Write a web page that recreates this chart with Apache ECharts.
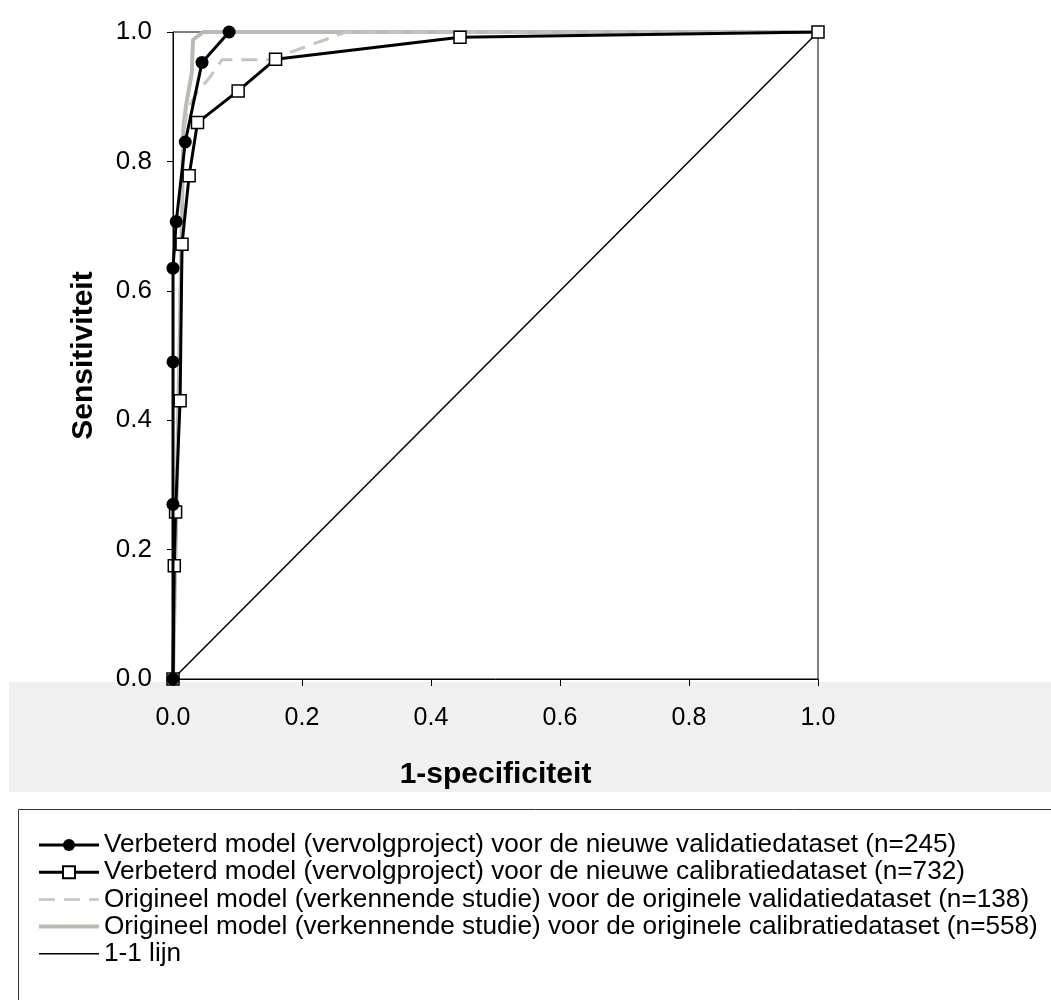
<!DOCTYPE html>
<html>
<head>
<meta charset="utf-8">
<script src="https://cdn.jsdelivr.net/npm/echarts@6/dist/echarts.min.js"></script>
<style>
html, body { margin: 0; background: #fff; }
#chart { width: 1051px; height: 1000px; }
</style>
</head>
<body>
<div id="chart"></div>
<script>
// 1-specificiteit (x) en sensitiviteit (y) per curve
var nieuwValX = [0, 0, 0, 0, 0.005, 0.019, 0.045, 0.087];
var nieuwValY = [0, 0.27, 0.49, 0.635, 0.707, 0.83, 0.953, 1.0];

var nieuwCalX = [0, 0.002, 0.004, 0.011, 0.014, 0.025, 0.038, 0.101, 0.159, 0.445, 1.0];
var nieuwCalY = [0, 0.175, 0.258, 0.43, 0.672, 0.778, 0.86, 0.909, 0.958, 0.992, 1.0];

var origValX = [0, 0.008, 0.012, 0.016, 0.022, 0.037, 0.057, 0.076, 0.15, 0.269, 1.0];
var origValY = [0, 0.43, 0.67, 0.84, 0.88, 0.906, 0.93, 0.957, 0.957, 1.0, 1.0];

var origCalX = [0, 0.006, 0.012, 0.016, 0.02, 0.029, 0.031, 0.047, 1.0];
var origCalY = [0, 0.3, 0.6, 0.85, 0.885, 0.936, 0.988, 1.0, 1.0];

var lijnX = [0, 1];
var lijnY = [0, 1];

var tickLabels = ['0.0', '0.2', '0.4', '0.6', '0.8', '1.0'];

var namen = [
    'Verbeterd model (vervolgproject) voor de nieuwe validatiedataset (n=245)',
    'Verbeterd model (vervolgproject) voor de nieuwe calibratiedataset (n=732)',
    'Origineel model (verkennende studie) voor de originele validatiedataset (n=138)',
    'Origineel model (verkennende studie) voor de originele calibratiedataset (n=558)',
    '1-1 lijn'
];

function pairs(xs, ys) {
    var out = [];
    for (var i = 0; i < xs.length; i++) {
        out.push([xs[i], ys[i]]);
    }
    return out;
}

function fmt(v) {
    return tickLabels[Math.round(v / 0.2)];
}

var myChart = echarts.init(document.getElementById('chart'));

var font = 'Liberation Sans, Arial, sans-serif';
// lines without markers: hide the symbol echarts puts in the legend icon
var noMark = { color: 'rgba(0,0,0,0)', borderColor: 'rgba(0,0,0,0)', borderWidth: 0 };

var option = {
    backgroundColor: '#fff',
    animation: false,
    textStyle: { fontFamily: font },
    graphic: [
        {
            type: 'rect',
            z: -100,
            shape: { x: 9, y: 682, width: 1042, height: 110 },
            style: { fill: '#f0f0f0' }
        },
        {
            type: 'rect',
            z: -100,
            shape: { x: 18.5, y: 809.5, width: 1100, height: 300 },
            style: { fill: 'none', stroke: '#333', lineWidth: 1 }
        }
    ],
    grid: {
        left: 173,
        right: 233,
        top: 32,
        height: 647,
        show: true,
        borderColor: '#000',
        borderWidth: 1,
        backgroundColor: '#fff'
    },
    xAxis: {
        type: 'value',
        min: 0,
        max: 1,
        interval: 0.2,
        name: '1-specificiteit',
        nameLocation: 'middle',
        nameGap: 81,
        nameTextStyle: { fontSize: 30, fontWeight: 'bold', color: '#000', fontFamily: font },
        axisLine: { lineStyle: { color: '#000', width: 1 } },
        axisTick: { length: 7, lineStyle: { color: '#000' } },
        axisLabel: { fontSize: 25, color: '#000', margin: 27, formatter: fmt },
        splitLine: { show: false }
    },
    yAxis: {
        type: 'value',
        min: 0,
        max: 1,
        interval: 0.2,
        name: 'Sensitiviteit',
        nameLocation: 'middle',
        nameGap: 74,
        nameTextStyle: { fontSize: 30, fontWeight: 'bold', color: '#000', fontFamily: font },
        axisLine: { show: true, lineStyle: { color: '#000', width: 1 } },
        axisTick: { show: true, length: 6, lineStyle: { color: '#000' } },
        axisLabel: { fontSize: 26, color: '#000', margin: 21, formatter: fmt },
        splitLine: { show: false }
    },
    legend: {
        orient: 'vertical',
        left: 32,
        top: 827,
        itemWidth: 60,
        itemHeight: 15,
        itemGap: 1.2,
        textStyle: { fontSize: 26.2, color: '#000', fontFamily: font },
        data: [
            { name: namen[0], lineStyle: { width: 3 } },
            { name: namen[1], lineStyle: { width: 3 } },
            { name: namen[2], itemStyle: noMark, lineStyle: { width: 2.5 } },
            { name: namen[3], itemStyle: noMark, lineStyle: { width: 4 } },
            { name: namen[4], itemStyle: noMark, lineStyle: { width: 1.5 } }
        ]
    },
    series: [
        {
            name: namen[0],
            type: 'line',
            z: 6,
            data: pairs(nieuwValX, nieuwValY),
            symbol: 'circle',
            symbolSize: 13,
            itemStyle: { color: '#000' },
            lineStyle: { color: '#000', width: 3 }
        },
        {
            name: namen[1],
            type: 'line',
            z: 5,
            data: pairs(nieuwCalX, nieuwCalY),
            symbol: 'rect',
            symbolSize: 12,
            itemStyle: { color: '#fff', borderColor: '#000', borderWidth: 1.5 },
            lineStyle: { color: '#000', width: 3 }
        },
        {
            name: namen[2],
            type: 'line',
            z: 4,
            data: pairs(origValX, origValY),
            showSymbol: false,
            symbol: 'none',
            itemStyle: { color: '#c4c5be' },
            lineStyle: { color: '#c4c5be', width: 3, type: [16, 9] }
        },
        {
            name: namen[3],
            type: 'line',
            z: 3,
            data: pairs(origCalX, origCalY),
            showSymbol: false,
            symbol: 'none',
            itemStyle: { color: '#b9bbb0' },
            lineStyle: { color: '#b9bbb0', width: 4 }
        },
        {
            name: namen[4],
            type: 'line',
            z: 2,
            data: pairs(lijnX, lijnY),
            showSymbol: false,
            symbol: 'none',
            itemStyle: { color: '#000' },
            lineStyle: { color: '#000', width: 1.5 }
        }
    ]
};

myChart.setOption(option);
</script>
</body>
</html>
